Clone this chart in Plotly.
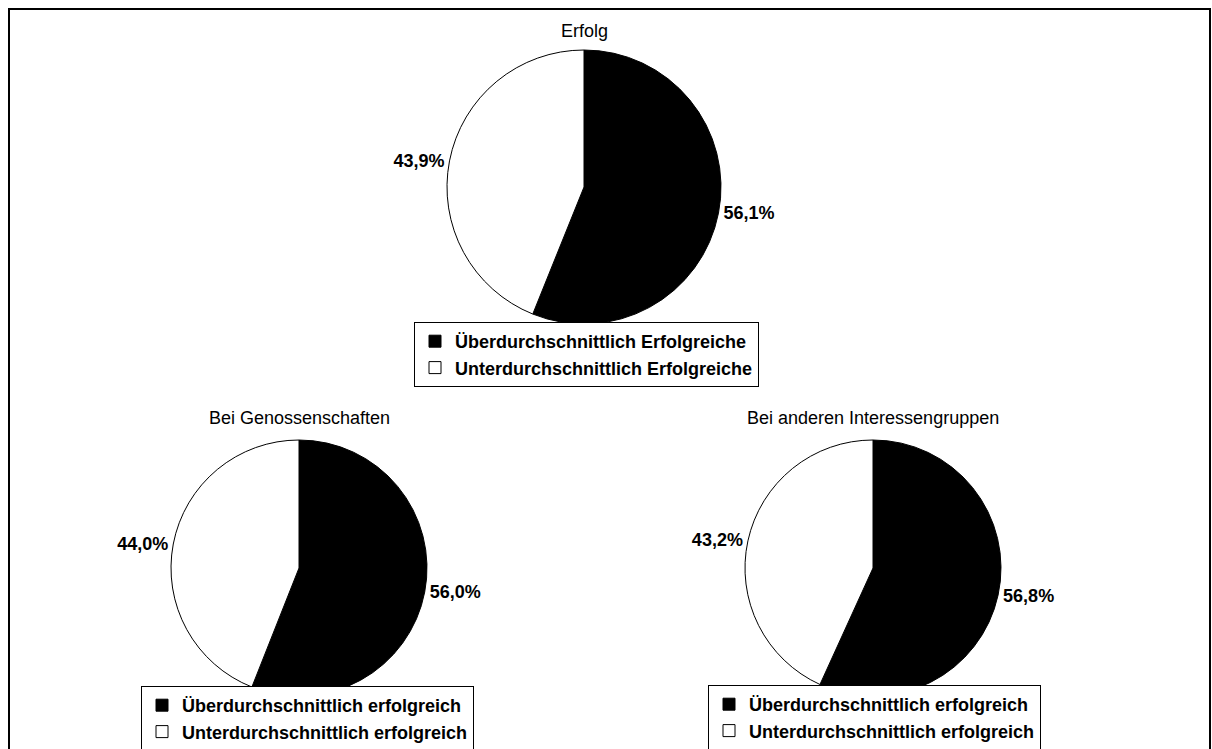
import plotly.graph_objects as go

W, H = 1212, 749

titles = ["Erfolg", "Bei Genossenschaften", "Bei anderen Interessengruppen"]
labels_top = ["Überdurchschnittlich Erfolgreiche", "Unterdurchschnittlich Erfolgreiche"]
labels_bottom = ["Überdurchschnittlich erfolgreich", "Unterdurchschnittlich erfolgreich"]
values_erfolg = [56.1, 43.9]
values_genossenschaften = [56.0, 44.0]
values_andere = [56.8, 43.2]

colors = ["#000000", "#ffffff"]
FONT = "Liberation Sans, Arial, sans-serif"

def px_x(x):
    return x / W

def px_y(y):
    return 1 - y / H

# pie geometry in pixels: (center x, top y, radius)
geom = [(584, 50, 137), (299, 440, 128), (873, 440, 128)]
title_gap = [7, 10, 10]
legend_pos = [(414, 322), (141, 686), (708, 685)]
# pies key legend items by label; a zero-width suffix keeps the third legend's items separate
label_suffix = ["", "", "\u200b"]
series = [(values_erfolg, labels_top), (values_genossenschaften, labels_bottom), (values_andere, labels_bottom)]
legend_names = ["legend", "legend2", "legend3"]

fig = go.Figure()
for i, ((vals, labs), (cx, top, r)) in enumerate(zip(series, geom)):
    fig.add_trace(go.Pie(
        labels=[l + label_suffix[i] for l in labs],
        values=vals,
        sort=False,
        direction="clockwise",
        rotation=0,
        marker=dict(colors=colors, line=dict(color="#000000", width=1)),
        textposition="outside",
        texttemplate="%{percent:.1%}",
        textfont=dict(family=FONT, size=18, color="#000000", weight="bold"),
        outsidetextfont=dict(family=FONT, size=18, color="#000000", weight="bold"),
        domain=dict(x=[px_x(cx - r), px_x(cx + r)], y=[px_y(top + 2 * r), px_y(top)]),
        legend=legend_names[i],
        showlegend=True,
        hoverinfo="label+percent",
    ))

annotations = []
for t, (cx, top, r), g in zip(titles, geom, title_gap):
    annotations.append(dict(
        text=t, x=px_x(cx), y=px_y(top - g), xref="paper", yref="paper",
        xanchor="center", yanchor="bottom", showarrow=False,
        font=dict(family=FONT, size=18, color="#000000"),
    ))

legend_common = dict(
    bgcolor="#ffffff", bordercolor="#000000", borderwidth=1,
    font=dict(family=FONT, size=18, color="#000000", weight="bold"),
    xanchor="left", yanchor="top", itemwidth=30, traceorder="normal",
    itemclick=False, itemdoubleclick=False,
)

layout_legends = {}
for name, (lx, ly) in zip(legend_names, legend_pos):
    layout_legends[name] = dict(x=px_x(lx), y=px_y(ly), **legend_common)

fig.update_layout(
    width=W, height=H,
    margin=dict(l=0, r=0, t=0, b=0, autoexpand=False),
    paper_bgcolor="#ffffff",
    plot_bgcolor="#ffffff",
    separators=",.",
    annotations=annotations,
    shapes=[dict(type="rect", xref="paper", yref="paper",
                 x0=px_x(9), x1=px_x(1210), y0=px_y(760), y1=px_y(9),
                 line=dict(color="#000000", width=2))],
    **layout_legends,
)

fig.write_html(
    "out.html",
    config={"displayModeBar": False},
    post_script="document.body.style.margin='0';document.body.style.padding='0';document.body.style.overflow='hidden';",
)
